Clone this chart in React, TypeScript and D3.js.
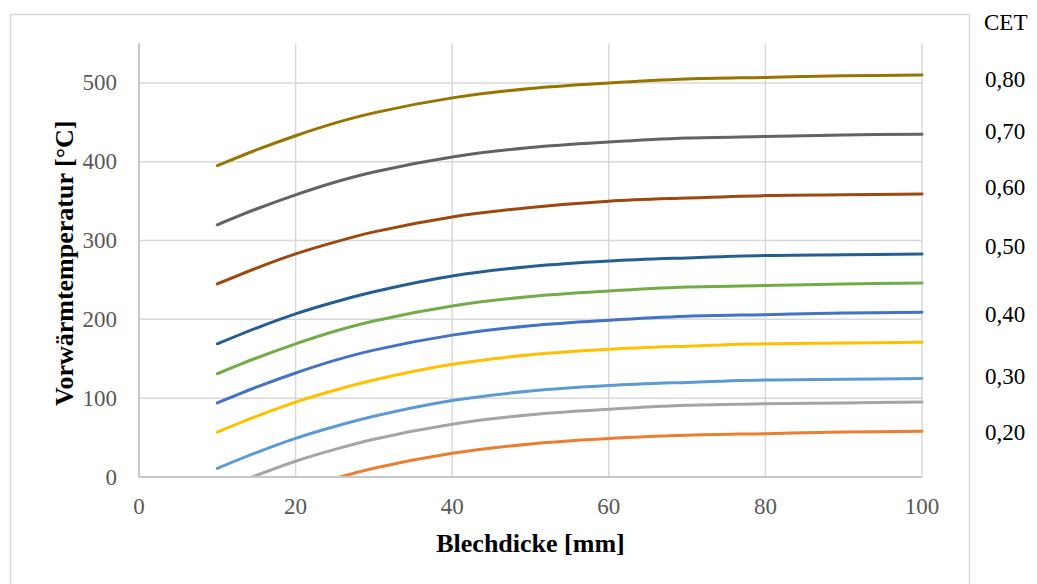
import React from "react";
import * as d3 from "d3";

const thickness = [10, 15, 20, 25, 30, 40, 50, 60, 70, 80, 90, 100];

const cet080 = [395, 415, 433, 449, 462, 481, 493, 500, 505, 507, 509, 510];
const cet070 = [320, 340, 358, 374, 387, 406, 418, 425, 430, 432, 434, 435];
const cet060 = [245, 265, 283, 298, 311, 330, 342, 350, 354, 357, 358, 359];
const cet050 = [169, 189, 207, 222, 235, 255, 267, 274, 278, 281, 282, 283];
const cet045 = [131, 151, 169, 185, 198, 217, 229, 236, 241, 243, 245, 246];
const cet040 = [94, 114, 132, 148, 161, 180, 192, 199, 204, 206, 208, 209];
const cet035 = [57, 77, 95, 110, 123, 143, 155, 162, 166, 169, 170, 171];
const cet030 = [11, 31, 49, 64, 77, 97, 109, 116, 120, 123, 124, 125];
const cet025 = [-18, 2, 20, 35, 48, 67, 79, 86, 91, 93, 94, 95];
const cet020 = [-56, -36, -18, -2, 11, 30, 42, 49, 53, 55, 57, 58];

const seriesValues = [cet080, cet070, cet060, cet050, cet045, cet040, cet035, cet030, cet025, cet020];
const seriesColors = ["#997300", "#636363", "#9E480E", "#255E91", "#70AD47", "#4472C4", "#FFC000", "#5B9BD5", "#A5A5A5", "#ED7D31"];

const xTicks = [0, 20, 40, 60, 80, 100];
const yTicks = [0, 100, 200, 300, 400, 500];

const cetLabels = ["0,80", "0,70", "0,60", "0,50", "0,40", "0,30", "0,20"];
const cetLabelTemps = [504, 438, 367, 292, 206, 128, 56];

const W = 1037;
const H = 584;
const plot = { left: 139, right: 922, top: 43.5, bottom: 477 };
const FONT = "'Liberation Serif', 'Times New Roman', serif";

export default function App() {
  const x = d3.scaleLinear().domain([0, 100]).range([plot.left, plot.right]);
  const y = d3.scaleLinear().domain([0, 550]).range([plot.bottom, plot.top]);
  const line = d3
    .line<[number, number]>()
    .x((d) => x(d[0]))
    .y((d) => y(d[1]))
    .curve(d3.curveCatmullRom.alpha(0.5));

  return (
    <svg
      width={W}
      height={H}
      style={{ position: "absolute", left: 0, top: 0, background: "#fff" }}
      fontFamily={FONT}
    >
      <defs>
        <clipPath id="plotClip">
          <rect x={plot.left - 3} y={plot.top - 3} width={plot.right - plot.left + 6} height={plot.bottom - plot.top + 2} />
        </clipPath>
      </defs>
      <rect x={0} y={0} width={W} height={H} fill="#fff" />
      <rect x={10.5} y={14.5} width={959} height={600} fill="none" stroke="#D9D9D9" strokeWidth={1.5} />

      {/* gridlines */}
      {yTicks.map((t) => (
        <line key={"gy" + t} x1={plot.left} x2={plot.right} y1={y(t)} y2={y(t)} stroke="#D9D9D9" strokeWidth={1.5} />
      ))}
      {xTicks.map((t) => (
        <line key={"gx" + t} x1={x(t)} x2={x(t)} y1={plot.top} y2={plot.bottom} stroke="#D9D9D9" strokeWidth={1.5} />
      ))}
      <line x1={plot.left} x2={plot.right} y1={y(0)} y2={y(0)} stroke="#BFBFBF" strokeWidth={1.5} />
      <line x1={plot.left} x2={plot.left} y1={plot.top} y2={plot.bottom} stroke="#BFBFBF" strokeWidth={1.5} />

      {/* tick labels */}
      {yTicks.map((t) => (
        <text key={"ty" + t} x={117} y={y(t)} textAnchor="end" dominantBaseline="central" fontSize={23} fill="#595959">
          {t}
        </text>
      ))}
      {xTicks.map((t) => (
        <text key={"tx" + t} x={x(t)} y={506} textAnchor="middle" dominantBaseline="central" fontSize={23} fill="#595959">
          {t}
        </text>
      ))}

      {/* series */}
      <g clipPath="url(#plotClip)">
        {seriesValues.map((vals, i) => (
          <path
            key={"s" + i}
            d={line(thickness.map((t, j) => [t, vals[j]] as [number, number])) || ""}
            fill="none"
            stroke={seriesColors[i]}
            strokeWidth={3}
            strokeLinecap="round"
          />
        ))}
      </g>

      {/* axis titles */}
      <text x={(plot.left + plot.right) / 2} y={552} textAnchor="middle" fontSize={26} fontWeight="bold" fill="#000">
        Blechdicke [mm]
      </text>
      <text
        transform={`translate(73, ${(plot.top + plot.bottom) / 2 + 3}) rotate(-90)`}
        textAnchor="middle"
        fontSize={26}
        fontWeight="bold"
        fill="#000"
      >
        Vorwärmtemperatur [°C]
      </text>

      {/* CET labels */}
      <text x={984} y={22} dominantBaseline="central" fontSize={23} fill="#000">
        CET
      </text>
      {cetLabels.map((l, i) => (
        <text key={"c" + i} x={985} y={y(cetLabelTemps[i])} dominantBaseline="central" fontSize={23} fill="#000">
          {l}
        </text>
      ))}
    </svg>
  );
}
